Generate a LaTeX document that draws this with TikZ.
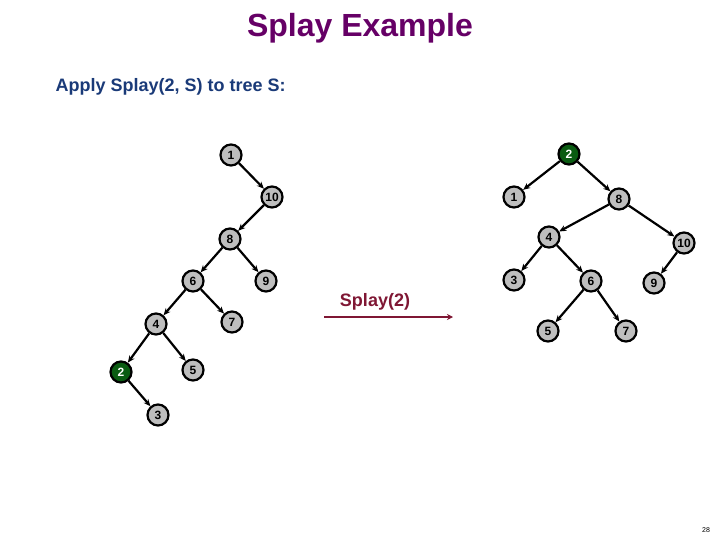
\documentclass[tikz,border=0pt]{standalone}
\usepackage{fontspec}
\setmainfont{Liberation Sans}
\usetikzlibrary{arrows.meta}
\definecolor{titlepurple}{HTML}{660066}
\definecolor{subblue}{HTML}{1A3A78}
\definecolor{arrowred}{HTML}{7F1734}
\definecolor{nodegray}{HTML}{BEBEBE}
\definecolor{nodegreen}{HTML}{0A5C12}
\begin{document}
\begin{tikzpicture}[x=1pt,y=-1pt,
  tn/.style={circle,draw=black,line width=2.2pt,fill=nodegray,minimum size=21pt,inner sep=0pt,
    font=\fontsize{12}{12}\selectfont\bfseries},
  gn/.style={tn,fill=nodegreen,text=white},
  ed/.style={line width=2.2pt,-{Stealth[length=7pt,width=6pt]}},
  ]
\useasboundingbox (0,0) rectangle (720,540);
\node[font=\fontsize{32}{32}\selectfont\bfseries,text=titlepurple] (title) at (360,28) {Splay Example};
\node[font=\fontsize{18}{18}\selectfont\bfseries,text=subblue,anchor=west] (sub) at (52,87) {Apply Splay(2, S) to tree S:};
% left tree
\node[tn] (l1) at (231,155) {1};
\node[tn] (l10) at (272,197) {10};
\node[tn] (l8) at (230,239) {8};
\node[tn] (l6) at (193,281) {6};
\node[tn] (l9) at (266,281) {9};
\node[tn] (l4) at (156,324) {4};
\node[tn] (l7) at (232,322) {7};
\node[gn] (l2) at (121,372) {2};
\node[tn] (l5) at (193,370) {5};
\node[tn] (l3) at (158,415) {3};
\draw[ed] (l1) -- (l10);
\draw[ed] (l10) -- (l8);
\draw[ed] (l8) -- (l6);
\draw[ed] (l8) -- (l9);
\draw[ed] (l6) -- (l4);
\draw[ed] (l6) -- (l7);
\draw[ed] (l4) -- (l2);
\draw[ed] (l4) -- (l5);
\draw[ed] (l2) -- (l3);
% right tree
\node[gn] (r2) at (569,154) {2};
\node[tn] (r1) at (514,197) {1};
\node[tn] (r8) at (619,199) {8};
\node[tn] (r4) at (549,237) {4};
\node[tn] (r10) at (684,243) {10};
\node[tn] (r3) at (514,280) {3};
\node[tn] (r6) at (591,281) {6};
\node[tn] (r9) at (654,283) {9};
\node[tn] (r5) at (548,331) {5};
\node[tn] (r7) at (626,331) {7};
\draw[ed] (r2) -- (r1);
\draw[ed] (r2) -- (r8);
\draw[ed] (r8) -- (r4);
\draw[ed] (r8) -- (r10);
\draw[ed] (r4) -- (r3);
\draw[ed] (r4) -- (r6);
\draw[ed] (r10) -- (r9);
\draw[ed] (r6) -- (r5);
\draw[ed] (r6) -- (r7);
% splay arrow
\coordinate (as) at (324,317);
\coordinate (ae) at (453,317);
\draw[line width=2.4pt,arrowred,-{Stealth[length=6pt,width=6pt]}] (as) -- (ae);
\node[font=\fontsize{18}{18}\selectfont\bfseries,text=arrowred] (lbl) at (375,302) {Splay(2)};
\node[font=\fontsize{7}{7}\selectfont] (pg) at (706,530) {28};
\end{tikzpicture}
\end{document}
